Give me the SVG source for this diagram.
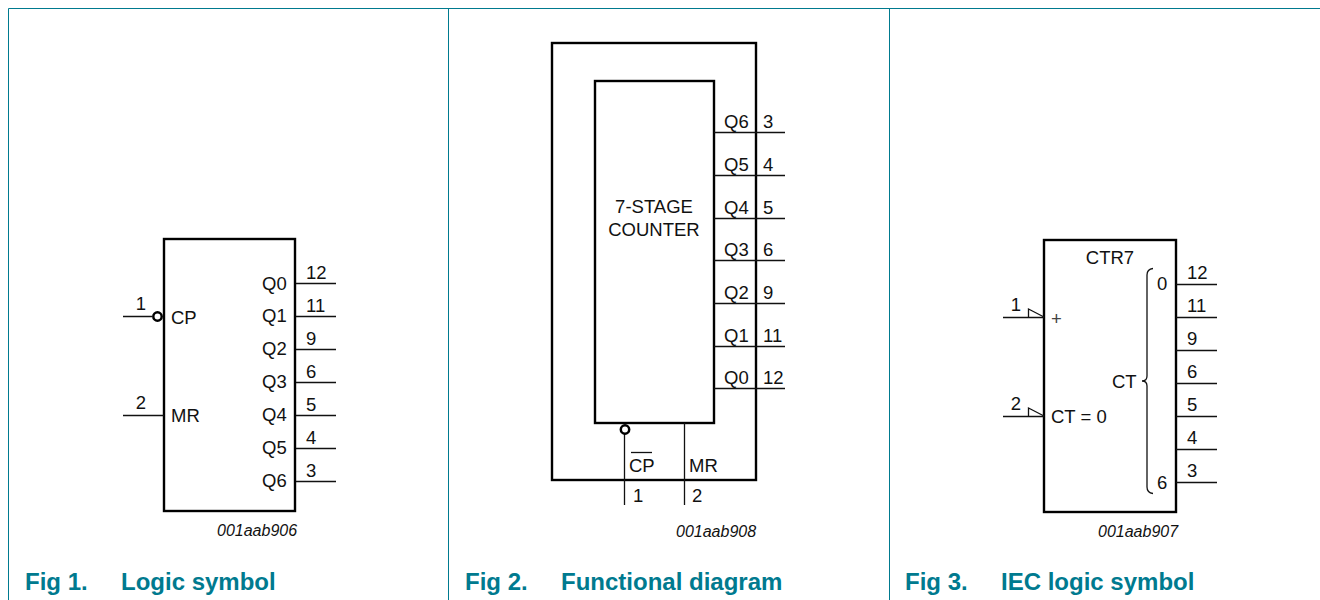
<svg xmlns="http://www.w3.org/2000/svg" width="1320" height="600" viewBox="0 0 1320 600">
<style>
.t{font-family:"Liberation Sans",Arial,sans-serif;font-size:18.500px;fill:#111}
.i{font-family:"Liberation Sans",Arial,sans-serif;font-size:16px;font-style:italic;fill:#111}
.f{font-family:"Liberation Sans",Arial,sans-serif;font-size:24px;font-weight:bold;fill:#007a8f}
.b{fill:#fff;stroke:#000;stroke-width:2.400}
.l{stroke:#111;stroke-width:1.300;fill:none}
.c{fill:#fff;stroke:#000;stroke-width:2.500}
.r{stroke:#007a8f;stroke-width:1;fill:none}
.m{text-anchor:middle}
</style>
<rect width="1320" height="600" fill="#fff"/>
<g id="frame"><path class="r" d="M8.500 600V8.500H1320M448.500 9V600M889.500 9V600"/></g>
<g id="fig1">
<rect class="b" x="164" y="239" width="131" height="272"/>
<text class="t m" x="141" y="310">1</text><text class="t m" x="141" y="409">2</text>
<text class="t" x="171" y="324">CP</text><text class="t" x="171" y="422">MR</text>
<text class="t" x="262" y="290">Q0</text><text class="t" x="262" y="322">Q1</text><text class="t" x="262" y="355">Q2</text><text class="t" x="262" y="388">Q3</text><text class="t" x="262" y="421">Q4</text><text class="t" x="262" y="454">Q5</text><text class="t" x="262" y="487">Q6</text>
<text class="t" x="306" y="279">12</text><text class="t" x="306" y="312">11</text><text class="t" x="306" y="345">9</text><text class="t" x="306" y="378">6</text><text class="t" x="306" y="411">5</text><text class="t" x="306" y="444">4</text><text class="t" x="306" y="477">3</text>
<text class="i" x="217" y="536">001aab906</text>
<text class="f" x="25" y="590">Fig 1.</text><text class="f" x="121" y="590">Logic symbol</text>
</g>
<g id="fig2">
<rect class="b" x="552" y="43" width="204" height="437"/>
<rect class="b" x="595" y="81" width="119" height="342"/>
<text class="t m" x="654" y="213">7-STAGE</text><text class="t m" x="654" y="236">COUNTER</text>
<text class="t" x="724" y="128">Q6</text><text class="t" x="724" y="171">Q5</text><text class="t" x="724" y="214">Q4</text><text class="t" x="724" y="256">Q3</text><text class="t" x="724" y="299">Q2</text><text class="t" x="724" y="342">Q1</text><text class="t" x="724" y="384">Q0</text>
<text class="t" x="763" y="128">3</text><text class="t" x="763" y="171">4</text><text class="t" x="763" y="214">5</text><text class="t" x="763" y="256">6</text><text class="t" x="763" y="299">9</text><text class="t" x="763" y="342">11</text><text class="t" x="763" y="384">12</text>
<text class="t" x="629" y="472">CP</text><text class="t" x="689" y="472">MR</text>
<text class="t" x="633" y="502">1</text><text class="t" x="692" y="502">2</text>
<text class="i" x="676" y="537">001aab908</text>
<text class="f" x="465" y="590">Fig 2.</text><text class="f" x="561" y="590">Functional diagram</text>
</g>
<g id="fig3">
<rect class="b" x="1044" y="240" width="132" height="272"/>
<text class="t m" x="1110" y="264">CTR7</text>
<text class="t" x="1051" y="325" style="fill:#444">+</text>
<text class="t" x="1051" y="423">CT = 0</text>
<text class="t" x="1112" y="388">CT</text>
<text class="t" x="1157" y="290">0</text><text class="t" x="1157" y="489">6</text>
<text class="t m" x="1016" y="311">1</text><text class="t m" x="1016" y="410">2</text>
<text class="t" x="1187" y="279">12</text><text class="t" x="1187" y="312">11</text><text class="t" x="1187" y="345">9</text><text class="t" x="1187" y="378">6</text><text class="t" x="1187" y="411">5</text><text class="t" x="1187" y="444">4</text><text class="t" x="1187" y="477">3</text>
<text class="i" x="1098" y="537">001aab907</text>
<text class="f" x="905" y="590">Fig 3.</text><text class="f" x="1001" y="590">IEC logic symbol</text>
</g>
<g id="connectors">
<path class="l" d="M123 316.500H152M123 415.500H164M296 283.500H336M296 316.500H336M296 349.500H336M296 382.500H336M296 415.500H336M296 448.500H336M296 481.500H336"/>
<circle class="c" cx="157.500" cy="316.500" r="4.200"/>
<path class="l" d="M714 132.500H785M714 175.500H785M714 218.500H785M714 260.500H785M714 303.500H785M714 346.500H785M714 388.500H785M624.500 434V505M684.500 423V505"/>
<circle class="c" cx="625" cy="429.500" r="4.200"/>
<path class="l" d="M631 452.500H652"/>
<path class="l" d="M1003 317.500H1044M1003 416.500H1044M1176 284.500H1217M1176 317.500H1217M1176 350.500H1217M1176 383.500H1217M1176 416.500H1217M1176 449.500H1217M1176 482.500H1217"/>
<path class="l" d="M1028.500 317V309L1044 317M1028.500 416V408L1044 416"/>
<path class="l" d="M1153 268.500C1149 269 1147 271 1147 275V376C1147 379 1145 381 1142 381C1145 381 1147 383 1147 386V487C1147 491 1149 493 1153 493.500"/>
</g>
</svg>
